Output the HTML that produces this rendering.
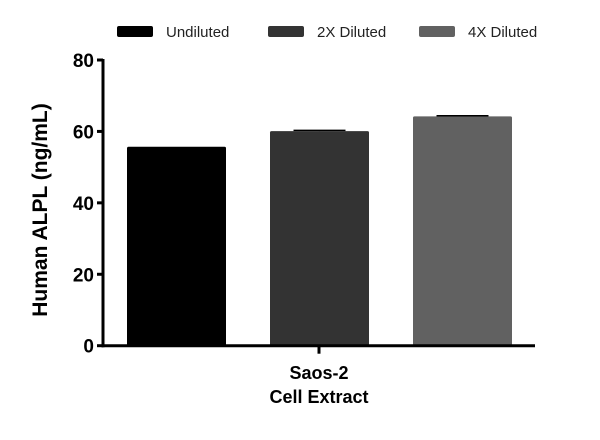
<!DOCTYPE html>
<html><head><meta charset="utf-8"><style>
html,body{margin:0;padding:0;background:#fff;}
svg{display:block;font-family:"Liberation Sans",sans-serif;}
</style></head><body>
<svg id="chart" width="600" height="440" viewBox="0 0 600 440"></svg>
<script>
const categories = ["Undiluted", "2X Diluted", "4X Diluted"];
const values = [55.7, 60.1, 64.2];
const errors = [0, 0.2, 0.2];
const yTicks = [0, 20, 40, 60, 80];
const colors = ["#000000", "#333333", "#616161"];

const NS = "http://www.w3.org/2000/svg";
const svg = document.getElementById("chart");
const y0 = 345.7, yTop = 60, yMax = 80;
const yScale = v => y0 - (v / yMax) * (y0 - yTop);
const barX = i => 127 + i * 143;
const barW = 99;
function mk(tag, attrs, parent) {
  const el = document.createElementNS(NS, tag);
  for (const k in attrs) el.setAttribute(k, attrs[k]);
  (parent || svg).appendChild(el);
  return el;
}

categories.forEach((c, i) => {
  const g = mk("g", {});
  
  
  const sw = mk("rect", {x: 117 + i * 151, y: 26, width: 36, height: 11, rx: 2, fill: colors[i]}, g);
  
  
  const t = mk("text", {x: 166 + i * 151, y: 37, "font-size": 15, fill: "#222"}, g);
  t.textContent = c;
  
  
});

values.forEach((v, i) => {
  const r = mk("rect", {x: barX(i), y: yScale(v), width: barW, height: y0 - yScale(v), rx: 1.5, fill: colors[i]});
  
  
  if (errors[i] > 0) {
    const cx = barX(i) + barW / 2;
    const e = mk("g", {stroke: "#000", "stroke-width": 1.5});
    
    
    mk("line", {x1: cx, x2: cx, y1: yScale(v + errors[i]), y2: yScale(v)}, e);
    mk("line", {x1: cx - 26, x2: cx + 26, y1: yScale(v + errors[i]), y2: yScale(v + errors[i])}, e);
  }
});

const ax = mk("g", {stroke: "#000", "stroke-width": 3});


mk("line", {x1: 103, x2: 103, y1: yTop - 1, y2: y0 + 1.5}, ax);
mk("line", {x1: 101.5, x2: 535, y1: y0, y2: y0}, ax);
mk("line", {x1: 319, x2: 319, y1: y0, y2: y0 + 8}, ax);
yTicks.forEach(t => {
  mk("line", {x1: 97, x2: 103, y1: yScale(t), y2: yScale(t)}, ax);
  const tx = mk("text", {x: 94, y: yScale(t) + 7, "font-size": 19, "font-weight": "bold", "text-anchor": "end", fill: "#000", stroke: "none"});
  tx.textContent = t;
  
  
});

const yt = mk("text", {x: 0, y: 0, transform: "translate(47,210) rotate(-90)", "font-size": 21, "font-weight": "bold", "text-anchor": "middle", fill: "#000"});
yt.textContent = "Human ALPL (ng/mL)";



const x1 = mk("text", {x: 319, y: 379, "font-size": 18, "font-weight": "bold", "text-anchor": "middle", fill: "#000"});
x1.textContent = "Saos-2";


const x2 = mk("text", {x: 319, y: 403, "font-size": 18, "font-weight": "bold", "text-anchor": "middle", fill: "#000"});
x2.textContent = "Cell Extract";


</script>
</body></html>
